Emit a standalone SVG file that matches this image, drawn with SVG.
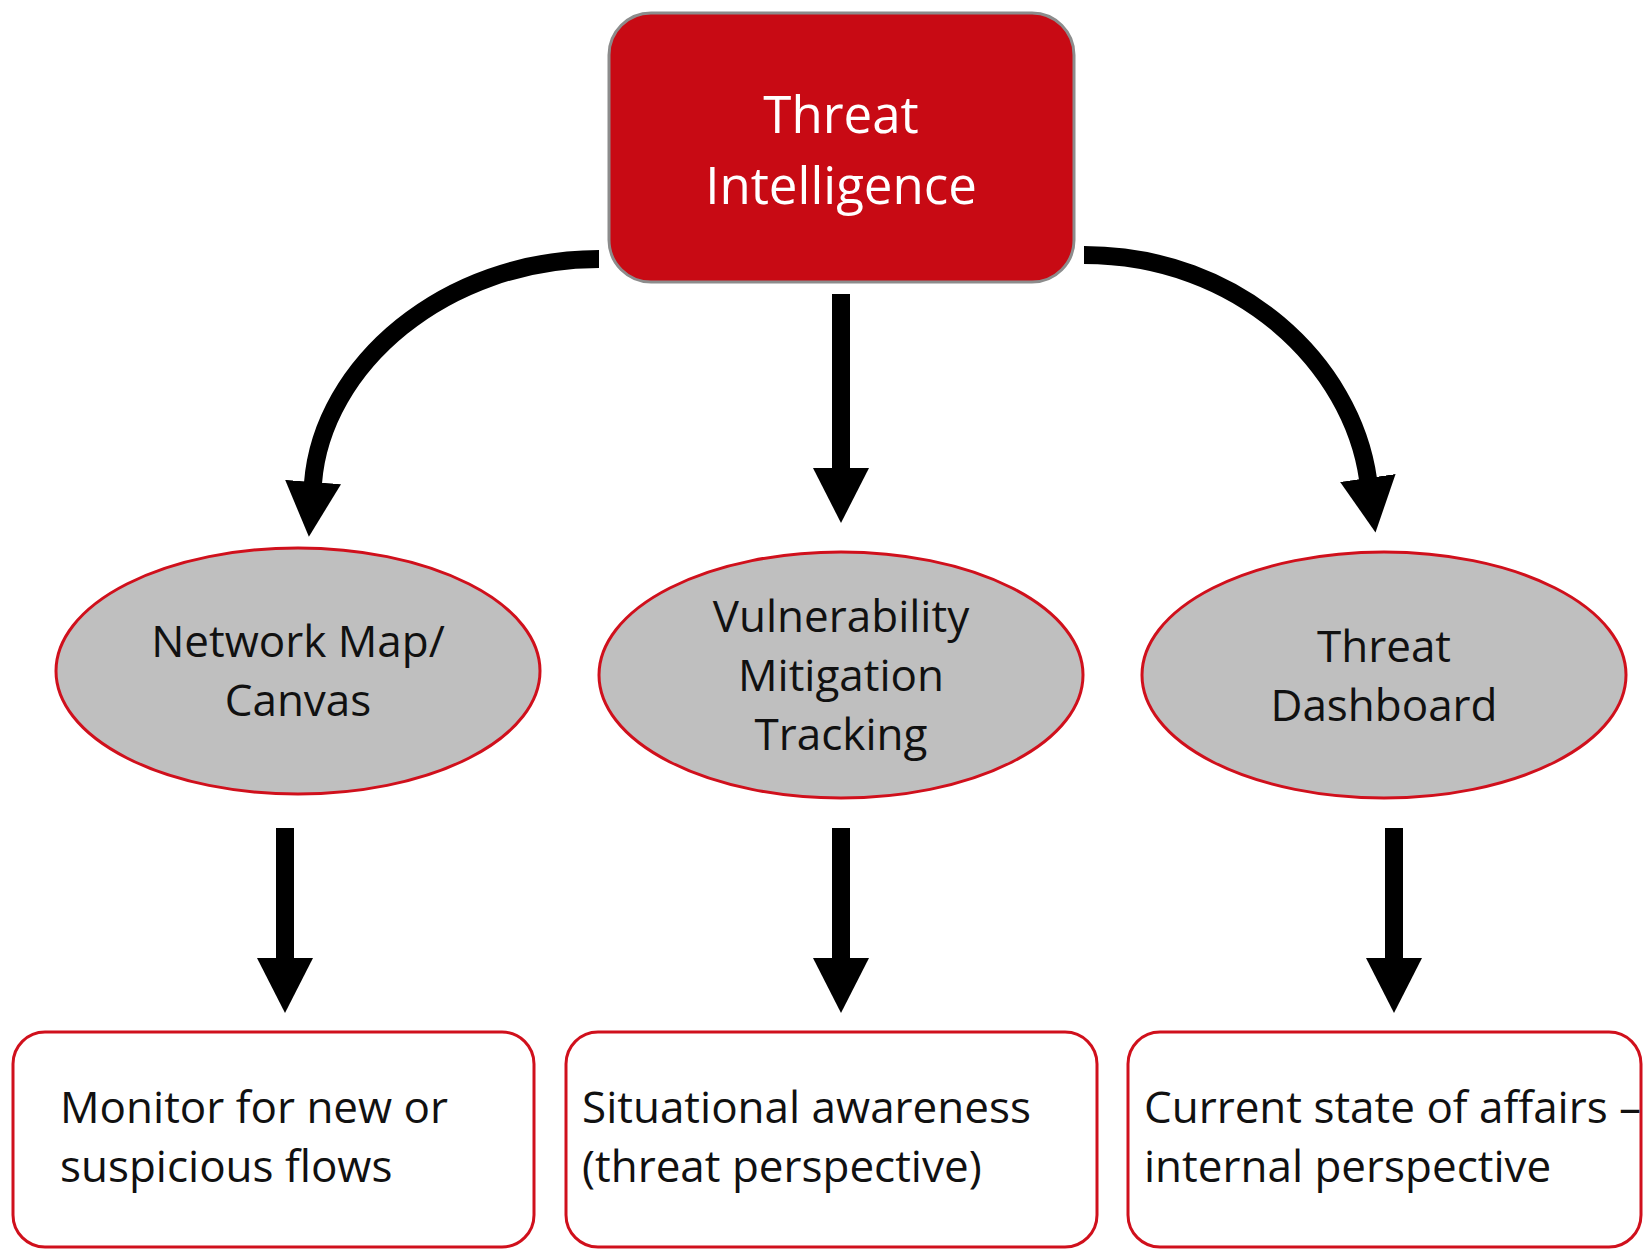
<svg xmlns="http://www.w3.org/2000/svg" width="1643" height="1249" viewBox="0 0 1643 1249">
<defs>
<style>
.txt{font-family:"Open Sans","Noto Sans",sans-serif;}
.top{fill:#C80A14;stroke:#8C8C8C;stroke-width:3;}
.topt{fill:#FFFFFF;font-size:51px;text-anchor:middle;}
.ell{fill:#BFBFBF;stroke:#D0101C;stroke-width:3;}
.ellt{fill:#111111;font-size:44px;text-anchor:middle;}
.box{fill:#FFFFFF;stroke:#D0101C;stroke-width:3;}
.boxt{fill:#111111;font-size:44px;}
.conn{fill:none;stroke:#000000;stroke-width:18;}
</style>
<marker id="ah" markerUnits="userSpaceOnUse" markerWidth="56" markerHeight="58" viewBox="0 0 56 58" refX="1" refY="29" orient="auto">
<path d="M0,1 L55,29 L0,57 Z" fill="#000000"/>
</marker>
</defs>
<g id="connectors">
<path class="conn" d="M599 259 C445 259 322 365 313 483" marker-end="url(#ah)"/>
<path class="conn" d="M841 294 L841 469" marker-end="url(#ah)"/>
<path class="conn" d="M1084 255 C1240 255 1352 365 1368 479" marker-end="url(#ah)"/>
<path class="conn" d="M285 828 L285 959" marker-end="url(#ah)"/>
<path class="conn" d="M841 828 L841 959" marker-end="url(#ah)"/>
<path class="conn" d="M1394 828 L1394 959" marker-end="url(#ah)"/>
</g>
<g id="threat-intelligence">
<rect class="top" x="609" y="13" width="465" height="269" rx="42" ry="42"/>
<text class="txt topt" x="841" y="133">Threat</text>
<text class="txt topt" x="841" y="204">Intelligence</text>
</g>
<g id="network-map">
<ellipse class="ell" cx="298" cy="671" rx="242" ry="123"/>
<text class="txt ellt" x="298" y="657">Network Map/</text>
<text class="txt ellt" x="298" y="716">Canvas</text>
</g>
<g id="vulnerability">
<ellipse class="ell" cx="841" cy="675" rx="242" ry="123"/>
<text class="txt ellt" x="841" y="632">Vulnerability</text>
<text class="txt ellt" x="841" y="691">Mitigation</text>
<text class="txt ellt" x="841" y="750">Tracking</text>
</g>
<g id="threat-dashboard">
<ellipse class="ell" cx="1384" cy="675" rx="242" ry="123"/>
<text class="txt ellt" x="1384" y="662">Threat</text>
<text class="txt ellt" x="1384" y="721">Dashboard</text>
</g>
<g id="monitor">
<rect class="box" x="13" y="1032" width="521" height="215" rx="32" ry="32"/>
<text class="txt boxt" x="60" y="1123">Monitor for new or</text>
<text class="txt boxt" x="60" y="1182">suspicious flows</text>
</g>
<g id="situational">
<rect class="box" x="566" y="1032" width="531" height="215" rx="32" ry="32"/>
<text class="txt boxt" x="582" y="1123">Situational awareness</text>
<text class="txt boxt" x="582" y="1182">(threat perspective)</text>
</g>
<g id="current-state">
<rect class="box" x="1128" y="1032" width="513" height="215" rx="32" ry="32"/>
<text class="txt boxt" x="1144" y="1123">Current state of affairs –</text>
<text class="txt boxt" x="1144" y="1182">internal perspective</text>
</g>
</svg>
